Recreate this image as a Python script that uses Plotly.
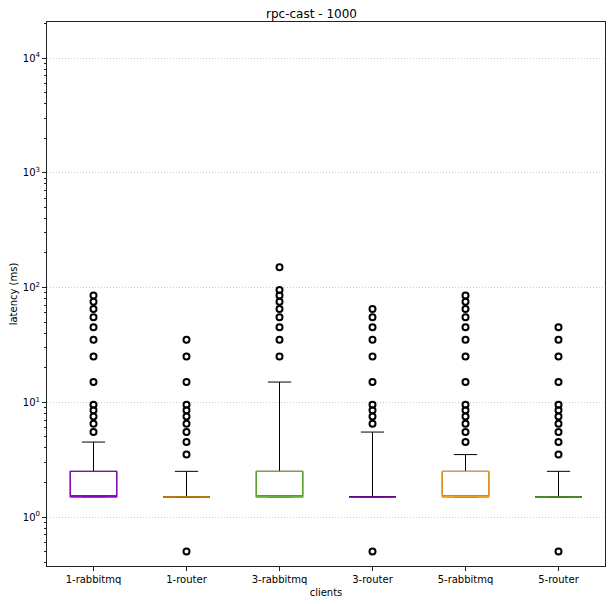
import plotly.graph_objects as go

categories = ["1-rabbitmq", "1-router", "3-rabbitmq", "3-router", "5-rabbitmq", "5-router"]
q1 = [1.5, 1.5, 1.5, 1.5, 1.5, 1.5]
median = [1.5, 1.5, 1.5, 1.5, 1.5, 1.5]
q3 = [2.5, 1.5, 2.5, 1.5, 2.5, 1.5]
lower_whisker = [1.5, 1.5, 1.5, 1.5, 1.5, 1.5]
upper_whisker = [4.5, 2.5, 15, 5.5, 3.5, 2.5]
outliers = [
    [5.5, 6.5, 7.5, 8.5, 9.5, 15, 25, 35, 45, 55, 65, 75, 85],
    [0.5, 3.5, 4.5, 5.5, 6.5, 7.5, 8.5, 9.5, 15, 25, 35],
    [25, 35, 45, 55, 65, 75, 85, 95, 150],
    [0.5, 6.5, 7.5, 8.5, 9.5, 15, 25, 35, 45, 55, 65],
    [4.5, 5.5, 6.5, 7.5, 8.5, 9.5, 15, 25, 35, 45, 55, 65, 75, 85],
    [0.5, 3.5, 4.5, 5.5, 6.5, 7.5, 8.5, 9.5, 15, 25, 35, 45],
]
box_colors = ["#8a07bf", "#f39c1e", "#63b12d", "#8a07bf", "#f39c1e", "#63b12d"]
y_tickvals = [1, 10, 100, 1000, 10000]
y_ticktext = ["10<sup>0</sup>", "10<sup>1</sup>", "10<sup>2</sup>", "10<sup>3</sup>", "10<sup>4</sup>"]
y_minor = [m * d for d in [0.1, 1, 10, 100, 1000, 10000] for m in range(2, 10)]

fig = go.Figure()

# black whiskers/caps layer
fig.add_trace(go.Box(
    x=categories, q1=q1, median=median, q3=q3,
    lowerfence=lower_whisker, upperfence=upper_whisker,
    boxpoints=False, width=0.5, whiskerwidth=0.5,
    line=dict(color="black", width=1), fillcolor="rgba(0,0,0,0)",
    showlegend=False, hoverinfo="skip",
))

# coloured boxes on top
for i, c in enumerate(categories):
    fig.add_trace(go.Box(
        x=[c], q1=[q1[i]], median=[median[i]], q3=[q3[i]],
        lowerfence=[q1[i]], upperfence=[q3[i]],
        boxpoints=False, width=0.5, whiskerwidth=0,
        line=dict(color=box_colors[i], width=1.2), fillcolor="rgba(0,0,0,0)",
        showlegend=False,
    ))

# outliers
for i, c in enumerate(categories):
    fig.add_trace(go.Scatter(
        x=[c] * len(outliers[i]), y=outliers[i], mode="markers",
        marker=dict(symbol="circle-open", size=6, color="black", line=dict(width=2, color="black")),
        showlegend=False,
    ))

yrange = [-0.427, 4.314]
fig.update_layout(
    width=607, height=596,
    margin=dict(l=39, r=10, t=14, b=38, autoexpand=False),
    paper_bgcolor="white", plot_bgcolor="white",
    boxmode="overlay",
    font=dict(family="DejaVu Sans", size=10, color="black"),
    title=dict(text="rpc-cast - 1000", x=0.5, xanchor="center", y=0.991, yanchor="middle",
               font=dict(size=12, color="black")),
    xaxis=dict(
        type="category", categoryorder="array", categoryarray=categories,
        title=dict(text="clients", standoff=4, font=dict(size=10)),
        showline=True, mirror=True, linecolor="#222", linewidth=1,
        ticks="outside", ticklen=4, tickcolor="#222", showgrid=False,
        range=[-0.5, 5.5], automargin=False,
    ),
    yaxis=dict(
        type="log", range=yrange,
        tickvals=y_tickvals, ticktext=y_ticktext,
        title=dict(text="latency (ms)", standoff=6, font=dict(size=10)),
        showline=True, mirror=True, linecolor="#222", linewidth=1,
        ticks="outside", ticklen=4, tickcolor="#222",
        showgrid=True, gridcolor="#cccccc", griddash="1px,2px", gridwidth=1,
        minor=dict(tickmode="array", tickvals=y_minor, ticks="outside", ticklen=2.5,
                   tickcolor="#222", showgrid=False),
        zeroline=False, automargin=False,
    ),
)

fig.write_html("out.html")
